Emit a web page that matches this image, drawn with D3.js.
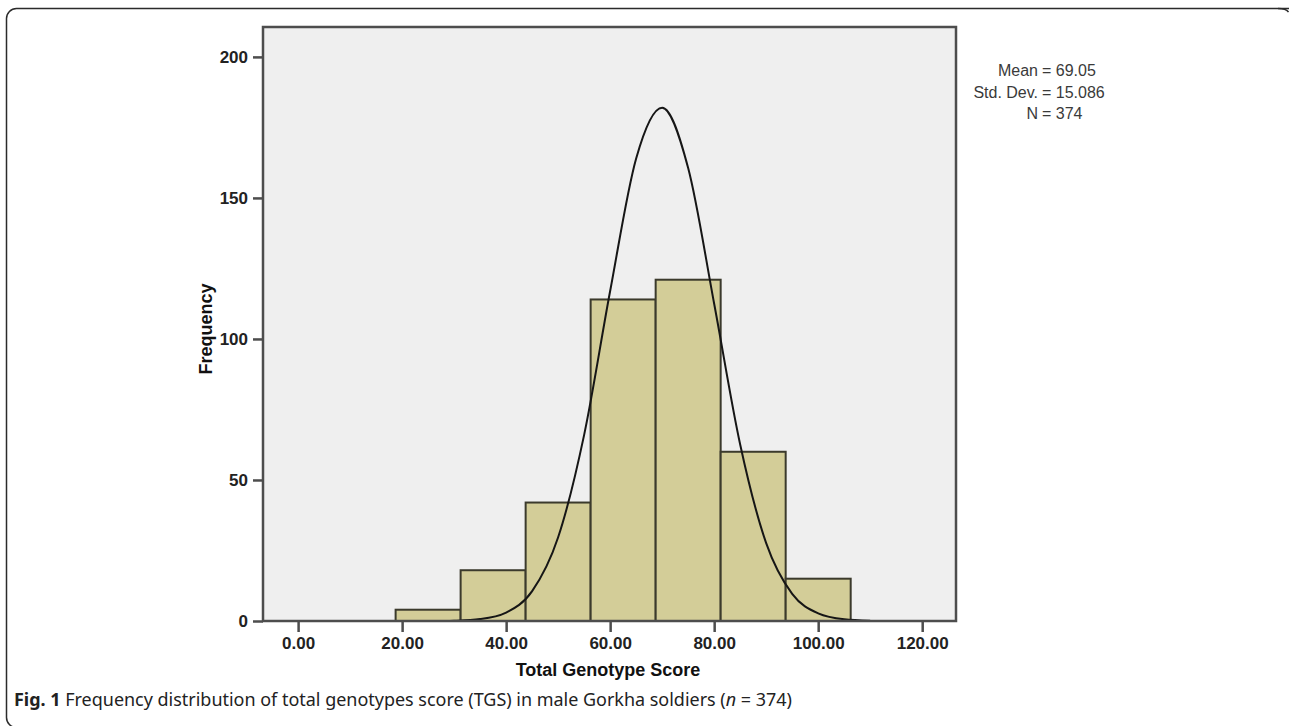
<!DOCTYPE html>
<html>
<head>
<meta charset="utf-8">
<script src="https://cdn.jsdelivr.net/npm/d3@7"></script>
<style>
  html, body { margin: 0; padding: 0; background: #fff; overflow: hidden; }
  svg { display: block; }
</style>
</head>
<body>
<svg id="chart" width="1289" height="726"></svg>
<script>
// histogram bins (lower edge, upper edge, count)
const binStarts = [18.75, 31.25, 43.75, 56.25, 68.75, 81.25, 93.75];
const binWidth = 12.5;
const binCounts = [4, 18, 42, 114, 121, 60, 15];

// normal curve
const curveX = [28, 30, 35, 40, 45, 50, 55, 60, 65, 70, 75, 80, 85, 90, 95, 100, 105, 110];
const curveY = [0, 0.1, 0.7, 3, 10.6, 29.7, 66, 117, 164, 182, 160.6, 112.5, 62.6, 27.6, 9.6, 2.7, 0.6, 0.1];

const xTicks = [0, 20, 40, 60, 80, 100, 120];
const yTicks = [0, 50, 100, 150, 200];
const statsLabels = ["Mean", "Std. Dev.", "N"];
const statsValues = ["69.05", "15.086", "374"];

const svg = d3.select("#chart");

// Figure frame: left side and top; right and bottom run off the page
svg.append("path")
    .attr("d", "M1289,8.5 H16.5 A10,10 0 0 0 6.5,18.5 V717.5 A10,10 0 0 0 16.5,727.5 H1289")
    .attr("fill", "none")
    .attr("stroke", "#2b2b2b")
    .attr("stroke-width", 1.5);
// little bend of the top-right corner
svg.append("path")
    .attr("d", "M1278,8.5 Q1286,8.5 1288.5,12")
    .attr("fill", "none")
    .attr("stroke", "#2b2b2b")
    .attr("stroke-width", 1.5);

// Scales
const x = d3.scaleLinear().domain([-6.75, 126.5]).range([263, 956]);
const y = d3.scaleLinear().domain([0, 210.6]).range([621, 27]);

const axisColor = "#4d4d4d";
const boldFont = "'Liberation Sans', Arial, sans-serif";

// Plot background
svg.append("rect")
    .attr("x", x.range()[0]).attr("y", y.range()[1])
    .attr("width", x.range()[1] - x.range()[0])
    .attr("height", y.range()[0] - y.range()[1])
    .attr("fill", "#efefef");

// Bars
svg.append("g").selectAll("rect")
    .data(binStarts)
    .enter()
    .append("rect")
    .attr("x", d => x(d))
    .attr("y", (d, i) => y(binCounts[i]))
    .attr("width", d => x(d + binWidth) - x(d))
    .attr("height", (d, i) => y(0) - y(binCounts[i]))
    .attr("fill", "#d3cd98")
    .attr("stroke", "#3b3a2c")
    .attr("stroke-width", 2);

// Normal curve
const line = d3.line()
    .x(d => x(d[0]))
    .y(d => y(d[1]))
    .curve(d3.curveMonotoneX);

svg.append("path")
    .datum(curveX.map((v, i) => [v, curveY[i]]))
    .attr("d", line)
    .attr("fill", "none")
    .attr("stroke", "#161616")
    .attr("stroke-width", 2);

// Plot border
svg.append("rect")
    .attr("x", x.range()[0]).attr("y", y.range()[1])
    .attr("width", x.range()[1] - x.range()[0])
    .attr("height", y.range()[0] - y.range()[1])
    .attr("fill", "none")
    .attr("stroke", axisColor)
    .attr("stroke-width", 2.5);

// X axis
const xAxis = d3.axisBottom(x)
    .tickValues(xTicks)
    .tickSize(11)
    .tickPadding(5)
    .tickFormat(d3.format(".2f"));

const gx = svg.append("g")
    .attr("transform", `translate(0,${y(0)})`)
    .call(xAxis);
gx.select(".domain").remove();
gx.selectAll("line").attr("stroke", axisColor).attr("stroke-width", 2.5);
gx.selectAll("text")
    .style("font-size", "17px")
    .style("font-weight", "bold")
    .style("font-family", boldFont)
    .attr("fill", "#222");

// Y axis
const yAxis = d3.axisLeft(y)
    .tickValues(yTicks)
    .tickSize(10)
    .tickPadding(5);

const gy = svg.append("g")
    .attr("transform", `translate(${x.range()[0]},0)`)
    .call(yAxis);
gy.select(".domain").remove();
gy.selectAll("line").attr("stroke", axisColor).attr("stroke-width", 2.5);
gy.selectAll("text")
    .style("font-size", "17px")
    .style("font-weight", "bold")
    .style("font-family", boldFont)
    .attr("fill", "#222");

// Axis titles
svg.append("text")
    .attr("x", 608).attr("y", 676)
    .attr("text-anchor", "middle")
    .style("font-size", "18px")
    .style("font-weight", "bold")
    .style("font-family", boldFont)
    .attr("fill", "#111")
    .text("Total Genotype Score");

svg.append("text")
    .attr("transform", "translate(212,329) rotate(-90)")
    .attr("text-anchor", "middle")
    .style("font-size", "18px")
    .style("font-weight", "bold")
    .style("font-family", boldFont)
    .attr("fill", "#111")
    .text("Frequency");

// Stats box, aligned on "="
const stats = svg.append("g")
    .style("font-family", "'Liberation Sans', Arial, sans-serif")
    .style("font-size", "16px")
    .attr("fill", "#3a3a3a");

statsLabels.forEach((lab, i) => {
    const yy = 76 + i * 21.5;
    stats.append("text")
        .attr("x", 1038).attr("y", yy)
        .attr("text-anchor", "end")
        .text(lab);
    stats.append("text")
        .attr("x", 1042).attr("y", yy)
        .text("= " + statsValues[i]);
});

// Caption
const caption = svg.append("text")
    .attr("x", 14).attr("y", 706)
    .style("font-family", "'Noto Sans', 'Open Sans', sans-serif")
    .style("font-size", "18px")
    .attr("fill", "#222");
caption.append("tspan").style("font-weight", "bold").text("Fig. 1");
caption.append("tspan").text(" Frequency distribution of total genotypes score (TGS) in male Gorkha soldiers (");
caption.append("tspan").style("font-style", "italic").text("n");
caption.append("tspan").text(" = 374)");

// squeeze caption to the width it has in the figure
const capW = caption.node().getComputedTextLength();
if (capW > 778) {
    caption.attr("textLength", 778).attr("lengthAdjust", "spacingAndGlyphs");
}
</script>
</body>
</html>
